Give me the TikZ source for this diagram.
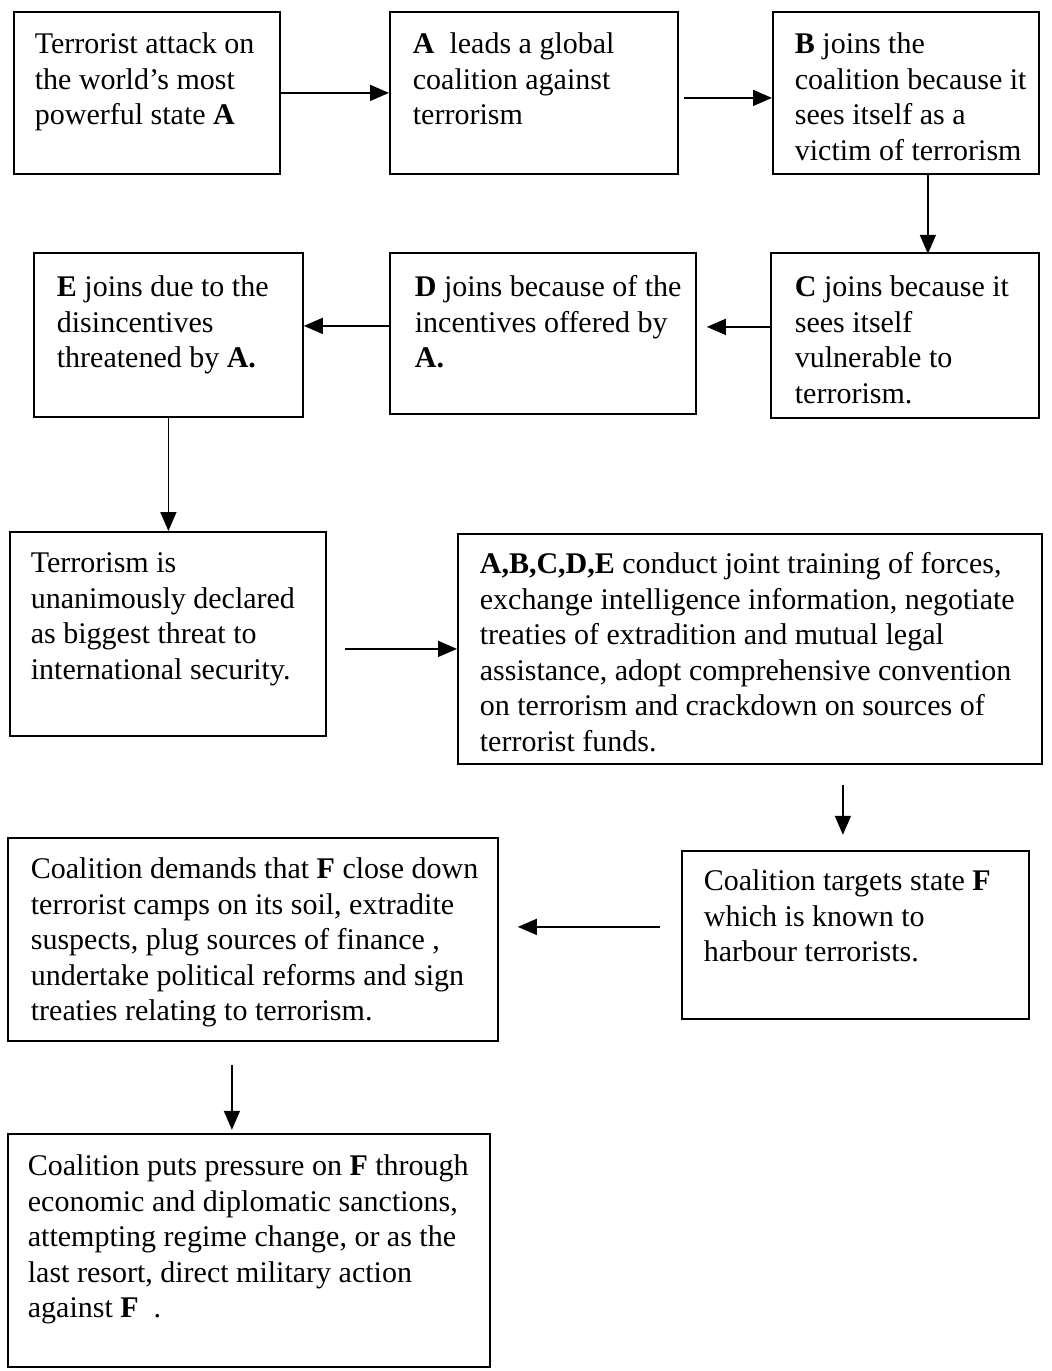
\documentclass[tikz,border=0pt]{standalone}
\usepackage{fontspec}
\setmainfont{Liberation Serif}
\usetikzlibrary{arrows.meta,calc}
\newcommand\boxtxt[5]{\parbox[t][#2pt][t]{#1pt}{\raggedright\leftskip=#3pt\relax\vspace*{#4pt}\strut#5}}
\tikzset{
  flowbox/.style={draw, line width=1.8pt, inner sep=0pt, anchor=north west,
    font=\fontsize{30}{35.5}\selectfont},
  arr/.style={line width=1.6pt, -{Triangle[length=19pt,width=16pt]}}
}
\begin{document}
\begin{tikzpicture}[x=1pt,y=-1pt]
\useasboundingbox (0,0) rectangle (1052,1371);
% row 1
\node[flowbox] (b1) at (13,11) {\boxtxt{266}{162}{21}{17}{Terrorist attack on\\the world's most\\powerful state \textbf{A}}};
\node[flowbox] (b2) at (389,11) {\boxtxt{288}{162}{23}{17}{\textbf{A}\ \ leads a global\\coalition against\\terrorism}};
\node[flowbox] (b3) at (772,11) {\boxtxt{266}{162}{22}{17}{\textbf{B} joins the\\coalition because it\\sees itself as a\\victim of terrorism}};
% row 2
\node[flowbox] (e) at (33,252) {\boxtxt{269}{164}{23}{19}{\textbf{E} joins due to the\\disincentives\\threatened by \textbf{A.}}};
\node[flowbox] (d) at (389,252) {\boxtxt{306}{161}{25}{19}{\textbf{D} joins because of the\\incentives offered by\\\textbf{A.}}};
\node[flowbox] (c) at (770,252) {\boxtxt{268}{165}{24}{19}{\textbf{C} joins because it\\sees itself\\vulnerable to\\terrorism.}};
% row 3
\node[flowbox] (t) at (9,531) {\boxtxt{316}{204}{21}{16}{Terrorism is\\unanimously declared\\as biggest threat to\\international security.}};
\node[flowbox] (abc) at (457,533) {\boxtxt{584}{230}{22}{15}{\textbf{A,B,C,D,E} conduct joint training of forces,\\exchange intelligence information, negotiate\\treaties of extradition and mutual legal\\assistance, adopt comprehensive convention\\on terrorism and crackdown on sources of\\terrorist funds.}};
% row 4
\node[flowbox] (dem) at (7,837) {\boxtxt{490}{203}{23}{16}{Coalition demands that \textbf{F} close down\\terrorist camps on its soil, extradite\\suspects, plug sources of finance ,\\undertake political reforms and sign\\treaties relating to terrorism.}};
\node[flowbox] (tgt) at (681,850) {\boxtxt{347}{168}{22}{15}{Coalition targets state \textbf{F}\\which is known to\\harbour terrorists.}};
% row 5
\node[flowbox] (last) at (7,1133) {\boxtxt{482}{233}{20}{17}{Coalition puts pressure on \textbf{F} through\\economic and diplomatic sanctions,\\attempting regime change, or as the\\last resort, direct military action\\against \textbf{F}\ \ .}};
% connectors
\draw[arr] (b1.east) -- (b2.west);
\draw[arr] ($(b2.east)+(5pt,-5pt)$) -- ($(b3.west)+(0pt,-5pt)$);
\draw[arr] ($(b3.south)+(22pt,0pt)$) -- ($(b3.south)+(22pt,-79pt)$);
\draw[arr] ($(c.west)+(0pt,8.5pt)$) -- ($(c.west -| d.east)+(10pt,8.5pt)$);
\draw[arr] ($(d.west)+(0pt,7.5pt)$) -- ($(d.west -| e.east)+(0pt,7.5pt)$);
\draw[arr] (e.south) -- (e.south |- t.north);
\draw[arr] ($(t.east |- abc.west)+(18pt,0pt)$) -- (abc.west);
\draw[arr] ($(abc.south)+(93pt,-20pt)$) -- ($(abc.south)+(93pt,-70pt)$);
\draw[arr] ($(tgt.west)+(-21pt,8pt)$) -- ($(tgt.west -| dem.east)+(19pt,8pt)$);
\draw[arr] ($(dem.south)+(-21pt,-23pt)$) -- ($(dem.south)+(-21pt,-88pt)$);
\end{tikzpicture}
\end{document}
